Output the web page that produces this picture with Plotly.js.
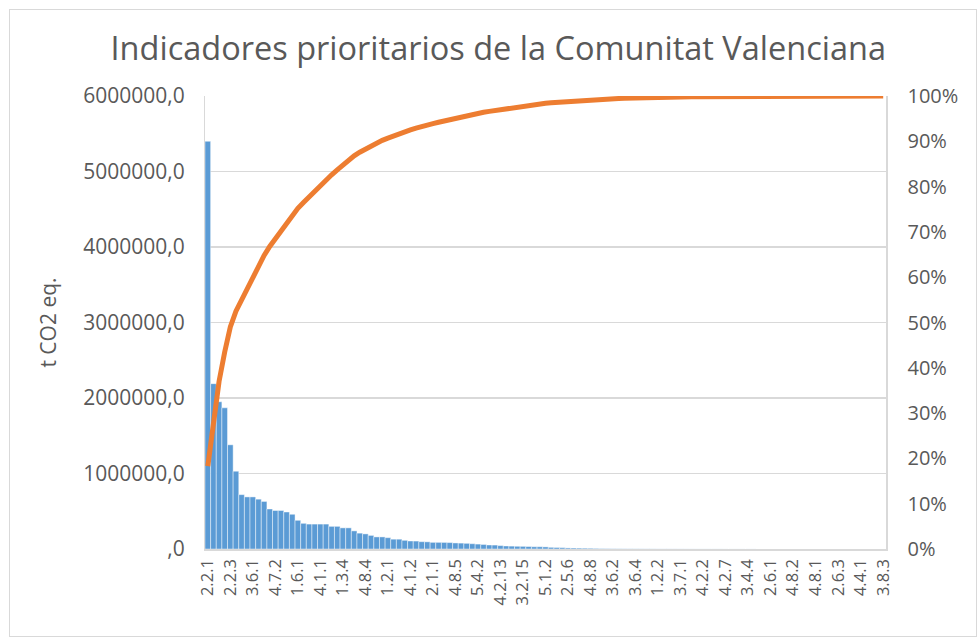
<!DOCTYPE html>
<html>
<head>
<meta charset="utf-8">
<script src="https://cdn.plot.ly/plotly-3.0.1.min.js"></script>
<style>
  html, body { margin: 0; padding: 0; background: #ffffff; }
  #wrap { position: relative; width: 977px; height: 637px; overflow: hidden; }
  #frame { position: absolute; left: 9px; top: 9px; width: 966px; height: 626px; border: 1px solid #d9d9d9; pointer-events: none; }
  #chart { position: absolute; left: 0; top: 0; width: 977px; height: 637px; }
</style>
</head>
<body>
<div id="wrap">
  <div id="frame"></div>
  <div id="chart"></div>
</div>
<script>
// ---- data ----
const chartTitle = "Indicadores prioritarios de la Comunitat Valenciana";
const yTitle = "t CO2 eq.";

// labelled categories (every 4th indicator is labelled on the axis)
const tickLabels = ["2.2.1","2.2.3","3.6.1","4.7.2","1.6.1","4.1.1","1.3.4","4.8.4","1.2.1","4.1.2",
  "2.1.1","4.8.5","5.4.2","4.2.13","3.2.15","5.1.2","2.5.6","4.8.8","3.6.2","3.6.4",
  "1.2.2","3.7.1","4.2.2","4.2.7","3.4.4","2.6.1","4.8.2","4.8.1","2.6.3","4.4.1","3.8.3"];
const labelEvery = 4;

// emissions per indicator (t CO2 eq.), sorted descending
const emissions = [
  5400000, 2190000, 1950000, 1870000, 1380000, 1030000, 720000, 690000, 690000, 660000,
  630000, 530000, 510000, 510000, 490000, 460000, 380000, 340000, 330000, 330000,
  330000, 330000, 300000, 300000, 280000, 280000, 240000, 210000, 200000, 180000,
  160000, 160000, 150000, 130000, 130000, 115000, 106000, 105000, 97000, 95000,
  88000, 88000, 87000, 85000, 80000, 78000, 75000, 70000, 65000, 60000,
  53000, 52000, 45000, 40000, 38000, 36000, 35000, 33000, 30000, 30000,
  28000, 22000, 20000, 18000, 14000, 13000, 12000, 11000, 10000, 8000,
  6000, 5000, 4000, 3500, 3000, 2800, 2500, 2200, 2000, 1800,
  1600, 1500, 1400, 1300, 1200, 1100, 1000, 950, 900, 850,
  800, 750, 700, 650, 600, 560, 520, 480, 440, 400,
  370, 340, 310, 280, 250, 230, 210, 190, 170, 150,
  130, 110, 95, 80, 65, 50, 40, 30, 20, 12, 5
];

// cumulative share (%) as drawn by the orange line
const cumulativePct = [
  18.3, 28.5, 37, 43.5, 49, 52.5, 55, 57.5, 60, 62.5,
  64.8, 66.8, 68.5, 70.3, 72, 73.7, 75.2, 76.5, 77.8, 79,
  80.2, 81.4, 82.6, 83.7, 84.8, 85.8, 86.8, 87.6, 88.3, 89,
  89.6, 90.2, 90.7, 91.2, 91.7, 92.1, 92.5, 92.9, 93.3, 93.6,
  93.9, 94.2, 94.5, 94.8, 95.1, 95.4, 95.7, 95.9, 96.2, 96.4,
  96.6, 96.8, 97.0, 97.2, 97.4, 97.6, 97.8, 97.9, 98.1, 98.2,
  98.4, 98.5, 98.6, 98.7, 98.8, 98.9, 99.0, 99.1, 99.2, 99.25,
  99.3, 99.35, 99.4, 99.45, 99.5, 99.55, 99.6, 99.62, 99.65, 99.68,
  99.7, 99.72, 99.74, 99.76, 99.78, 99.8, 99.81, 99.82, 99.83, 99.84,
  99.85, 99.86, 99.87, 99.88, 99.89, 99.9, 99.91, 99.92, 99.92, 99.93,
  99.94, 99.94, 99.95, 99.95, 99.96, 99.96, 99.97, 99.97, 99.97, 99.98,
  99.98, 99.98, 99.99, 99.99, 99.99, 99.99, 100, 100, 100, 100, 100
];

const leftTickVals = [0, 1000000, 2000000, 3000000, 4000000, 5000000, 6000000];
const leftTickText = [",0", "1000000,0", "2000000,0", "3000000,0", "4000000,0", "5000000,0", "6000000,0"];
const rightTickVals = [0, 10, 20, 30, 40, 50, 60, 70, 80, 90, 100];
const rightTickText = ["0%", "10%", "20%", "30%", "40%", "50%", "60%", "70%", "80%", "90%", "100%"];

// ---- build ----
const idx = emissions.map((_, i) => i);
const tickVals = tickLabels.map((_, i) => i * labelEvery);

const FONT = "Open Sans, Liberation Sans, sans-serif";
const GREY = "#595959";

const traces = [
  {
    type: "bar",
    x: idx,
    y: emissions,
    marker: { color: "#5B9BD5", line: { color: "rgba(255,255,255,0.55)", width: 0.8 } },
    hoverinfo: "skip",
    showlegend: false
  },
  {
    type: "scatter",
    mode: "lines",
    x: idx,
    y: cumulativePct,
    yaxis: "y2",
    line: { color: "#ED7D31", width: 5, shape: "linear" },
    hoverinfo: "skip",
    showlegend: false
  }
];

const layout = {
  width: 977,
  height: 637,
  paper_bgcolor: "rgba(0,0,0,0)",
  plot_bgcolor: "#ffffff",
  margin: { l: 205, r: 91, t: 96, b: 88, pad: 0 },
  bargap: 0,
  font: { family: FONT, color: GREY },
  title: {
    text: chartTitle,
    font: { family: FONT, size: 32.5, color: GREY },
    xref: "container", x: 0.51, xanchor: "center",
    yref: "container", y: 0.924, yanchor: "middle"
  },
  xaxis: {
    range: [-0.5, emissions.length - 0.5],
    tickmode: "array",
    tickvals: tickVals,
    ticktext: tickLabels,
    tickangle: -90,
    tickfont: { family: FONT, size: 16.5, color: GREY },
    ticks: "",
    ticklabelstandoff: 2,
    showgrid: false,
    zeroline: false,
    showline: true,
    linecolor: "#d9d9d9",
    linewidth: 1.5,
    mirror: false,
    fixedrange: true
  },
  yaxis: {
    range: [0, 6000000],
    tickmode: "array",
    tickvals: leftTickVals,
    ticktext: leftTickText,
    tickfont: { family: FONT, size: 21, color: GREY },
    ticks: "",
    ticklabelstandoff: 15,
    showgrid: true,
    gridcolor: "#d9d9d9",
    gridwidth: 1.5,
    zeroline: false,
    showline: true,
    linecolor: "#d9d9d9",
    linewidth: 1,
    title: { text: yTitle, font: { family: FONT, size: 21, color: GREY }, standoff: 20 },
    fixedrange: true
  },
  yaxis2: {
    overlaying: "y",
    side: "right",
    range: [0, 100],
    tickmode: "array",
    tickvals: rightTickVals,
    ticktext: rightTickText,
    tickfont: { family: FONT, size: 20, color: GREY },
    ticks: "",
    ticklabelstandoff: 16,
    showgrid: false,
    zeroline: false,
    showline: true,
    linecolor: "#d9d9d9",
    linewidth: 1.5,
    fixedrange: true
  }
};

Plotly.newPlot("chart", traces, layout, { displayModeBar: false, staticPlot: true });
</script>
</body>
</html>
